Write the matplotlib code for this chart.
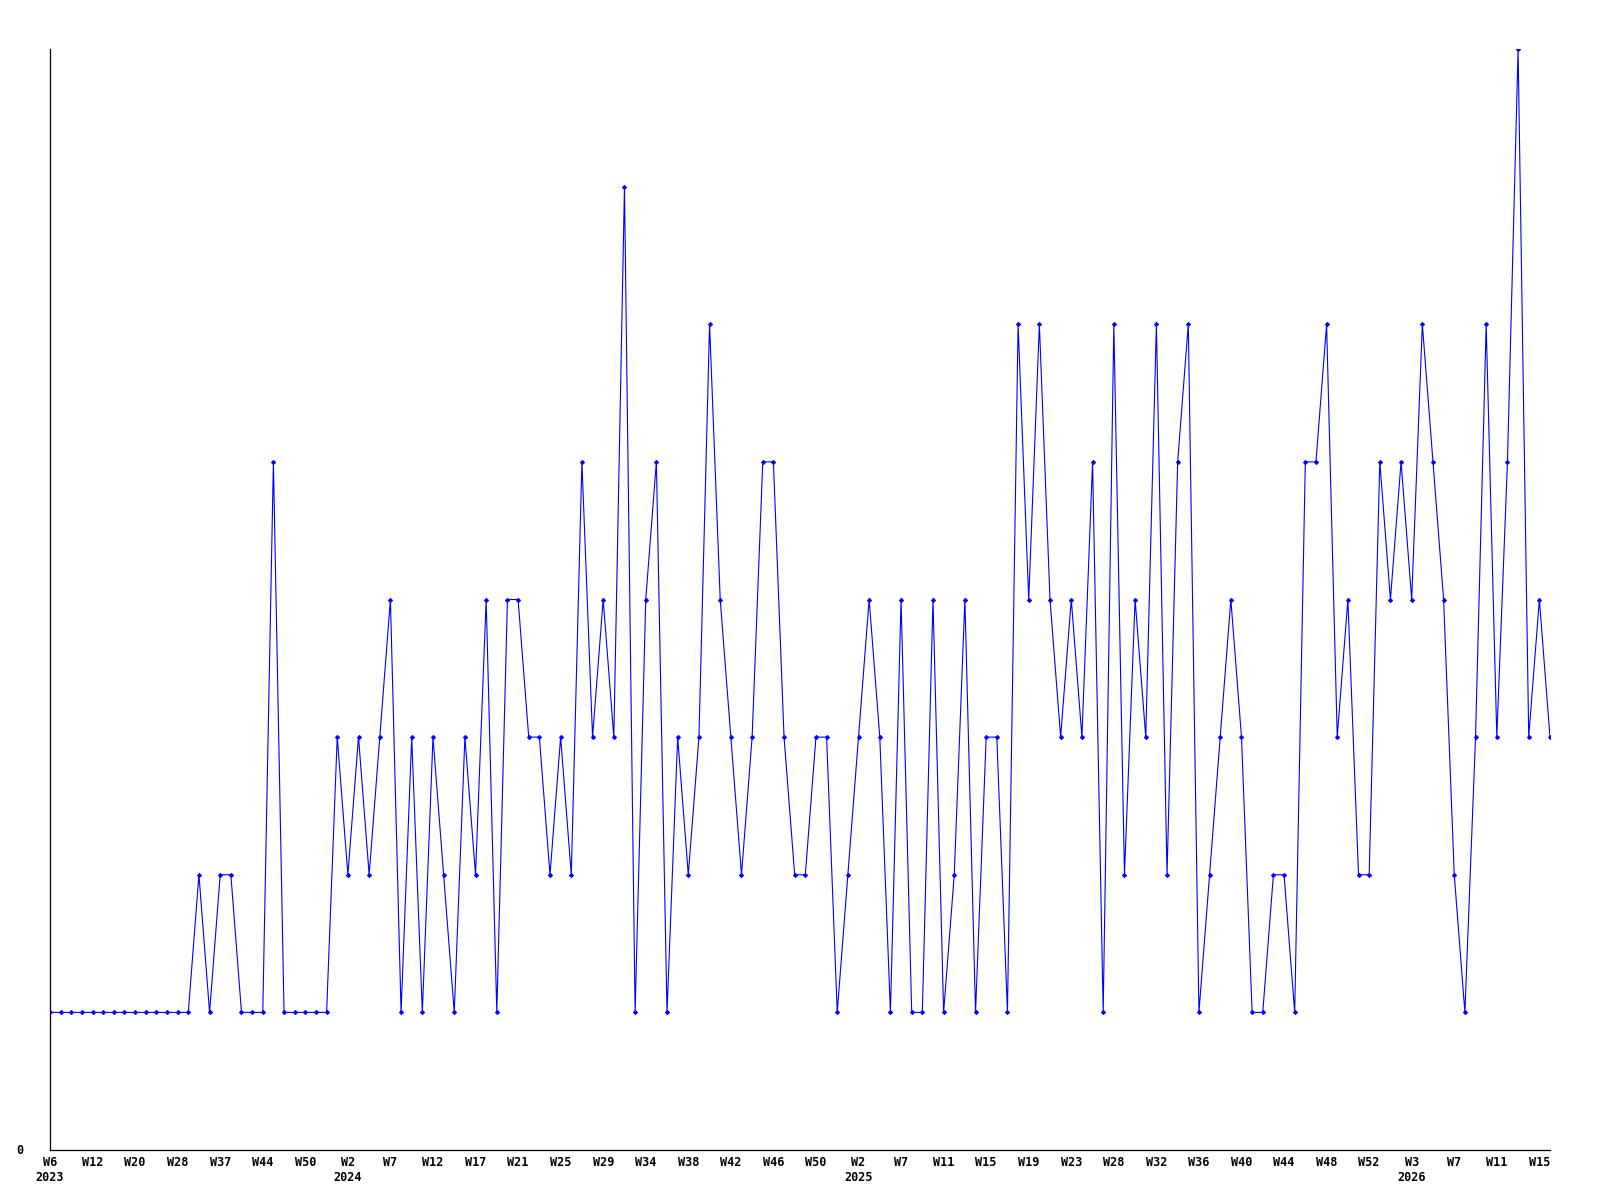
import matplotlib
matplotlib.use("Agg")
import matplotlib.pyplot as plt
import numpy as np

values = [
    1, 1, 1, 1, 1, 1, 1, 1, 1, 1, 1, 1, 1, 1, 2, 1, 2, 2, 1, 1,
    1, 5, 1, 1, 1, 1, 1, 3, 2, 3, 2, 3, 4, 1, 3, 1, 3, 2, 1, 3,
    2, 4, 1, 4, 4, 3, 3, 2, 3, 2, 5, 3, 4, 3, 7, 1, 4, 5, 1, 3,
    2, 3, 6, 4, 3, 2, 3, 5, 5, 3, 2, 2, 3, 3, 1, 2, 3, 4, 3, 1,
    4, 1, 1, 4, 1, 2, 4, 1, 3, 3, 1, 6, 4, 6, 4, 3, 4, 3, 5, 1,
    6, 2, 4, 3, 6, 2, 5, 6, 1, 2, 3, 4, 3, 1, 1, 2, 2, 1, 5, 5,
    6, 3, 4, 2, 2, 5, 4, 5, 4, 6, 5, 4, 2, 1, 3, 6, 3, 5, 8, 3,
    4, 3,
]

tick_labels = [
    "W6\n2023", "W12", "W20", "W28", "W37", "W44", "W50", "W2\n2024",
    "W7", "W12", "W17", "W21", "W25", "W29", "W34", "W38", "W42", "W46",
    "W50", "W2\n2025", "W7", "W11", "W15", "W19", "W23", "W28", "W32",
    "W36", "W40", "W44", "W48", "W52", "W3\n2026", "W7", "W11", "W15",
]
tick_every = 4

fig = plt.figure(figsize=(16, 12), dpi=100)
ax = fig.add_axes([50 / 1600, 1 - 1150 / 1200, 1500 / 1600, (1150 - 49) / 1200])

x = np.arange(len(values))
ax.plot(x, values, color="#0000ff", linewidth=0.8, marker="D", markersize=2.2,
        markeredgewidth=0.6, markerfacecolor="#0000ff", markeredgecolor="#0000ff")

ax.set_xlim(0, len(values) - 1)
ax.set_ylim(0, max(values))

ax.spines["top"].set_visible(False)
ax.spines["right"].set_visible(False)
ax.spines["left"].set_linewidth(0.9)
ax.spines["bottom"].set_linewidth(0.9)

font = dict(family="DejaVu Sans Mono", weight="bold", size=8.5)
ax.set_xticks(x[::tick_every][:len(tick_labels)])
ax.set_xticklabels(tick_labels, fontdict=font, linespacing=1.2)
ax.set_yticks([0])
ax.set_yticklabels(["0"], fontdict=font)
ax.tick_params(axis="both", length=0)
ax.tick_params(axis="x", pad=4.5)
ax.tick_params(axis="y", pad=19)
for lbl in ax.get_yticklabels():
    lbl.set_verticalalignment("center")

fig.savefig("out.png", dpi=100, facecolor="white")
